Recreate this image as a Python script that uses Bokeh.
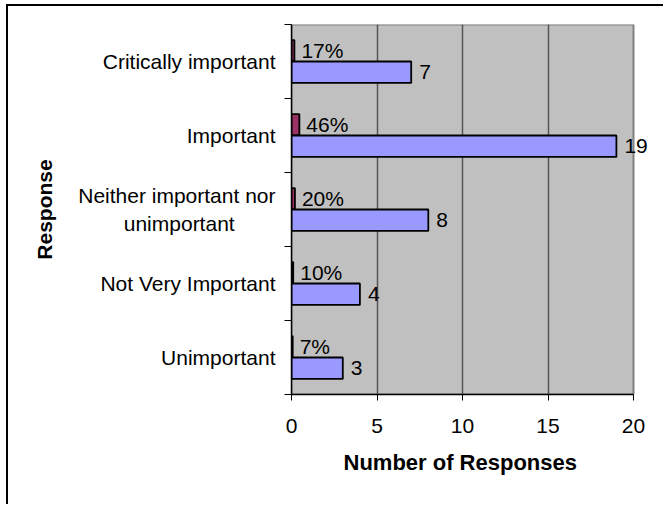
from bokeh.plotting import figure
from bokeh.models import Range1d, FixedTicker, ColumnDataSource, LabelSet, BoxAnnotation, Title
from bokeh.core.properties import value
from bokeh.embed import file_html
from bokeh.resources import INLINE

NBSP = "\u00a0"
categories = ["Critically important", "Important",
              "Neither important nor\nunimportant" + NBSP * 7,
              "Not Very Important", "Unimportant"]
counts = [7, 19, 8, 4, 3]
percents = [17, 46, 20, 10, 7]
x_ticks = [0, 5, 10, 15, 20]
x_max = 20

FONT = "Liberation Sans"
n = len(categories)
pos = [n - i - 0.5 for i in range(n)]
boundaries = [float(i) for i in range(n + 1)]
off = 0.145
bh = 0.29

FRAME_W_DATA = 342   # pixels spanned by 0..20
FRAME_W = 362        # extra room at right for the value labels
x_end = x_max * FRAME_W / FRAME_W_DATA

src = ColumnDataSource(dict(
    pos_pct=[p + off for p in pos],
    pos_cnt=[p - off for p in pos],
    counts=counts,
    frac=[v / 100 for v in percents],
    pct_txt=[f"{v}%" for v in percents],
    cnt_txt=[str(v) for v in counts],
))

p = figure(width=657, height=500, output_backend="svg", toolbar_location=None,
           x_range=Range1d(0, x_end), y_range=Range1d(0, n),
           min_border_left=283, min_border_top=18, min_border_right=12, min_border_bottom=112)
p.styles = {"border-top": "2px solid black", "border-left": "2px solid black",
            "margin-left": "6px", "margin-top": "4px"}
p.background_fill_color = "white"
p.border_fill_color = "white"
p.outline_line_color = None

# gray plot area (0..20)
p.add_layout(BoxAnnotation(left=0, right=x_max, bottom=0, top=n, level="image",
                           fill_color="#C0C0C0", fill_alpha=1.0,
                           line_color="#808080", line_width=2, line_alpha=1.0))

p.ygrid.visible = False
p.xgrid.ticker = FixedTicker(ticks=x_ticks[1:-1])
p.xgrid.grid_line_color = "#555555"
p.xgrid.grid_line_width = 1.5

p.hbar(y="pos_pct", right="frac", left=0, height=bh, source=src,
       fill_color="#993366", line_color="black", line_width=1.8)
p.hbar(y="pos_cnt", right="counts", left=0, height=bh, source=src,
       fill_color="#9999FF", line_color="black", line_width=1.8)

p.add_layout(LabelSet(x="frac", y="pos_pct", text="pct_txt", source=src, x_offset=7,
                      text_baseline="middle", text_align="left",
                      text_font=value(FONT), text_font_size="21px", text_color="black"))
p.add_layout(LabelSet(x="counts", y="pos_cnt", text="cnt_txt", source=src, x_offset=8,
                      text_baseline="middle", text_align="left",
                      text_font=value(FONT), text_font_size="21px", text_color="black"))

xa = p.xaxis[0]
xa.ticker = FixedTicker(ticks=x_ticks)
xa.bounds = (0, x_max)
xa.major_tick_out = 6
xa.major_tick_in = 0
xa.minor_tick_out = 0
xa.axis_line_color = "black"
xa.axis_line_width = 1.5
xa.major_tick_line_color = "black"
xa.major_label_text_font = FONT
xa.major_label_text_font_size = "21px"
xa.major_label_text_color = "black"
xa.major_label_standoff = 18

p.add_layout(Title(text="Number of Responses", align="left", offset=52, standoff=24,
                   text_font=FONT, text_font_size="22px", text_font_style="bold",
                   text_color="black"), "below")

ya = p.yaxis[0]
ya.ticker = FixedTicker(ticks=pos, minor_ticks=boundaries)
ya.major_label_overrides = {pv: c for pv, c in zip(pos, categories)}
ya.major_tick_out = 0
ya.major_tick_in = 0
ya.minor_tick_out = 7
ya.minor_tick_in = 0
ya.minor_tick_line_color = "black"
ya.axis_line_color = "black"
ya.axis_line_width = 1.5
ya.major_label_text_font = FONT
ya.major_label_text_font_size = "21px"
ya.major_label_text_color = "black"
ya.major_label_standoff = 9
ya.axis_label = "Response"
ya.axis_label_text_font = FONT
ya.axis_label_text_font_style = "bold"
ya.axis_label_text_font_size = "21px"
ya.axis_label_text_color = "black"
ya.axis_label_standoff = 19

open("out.html", "w").write(file_html(p, INLINE))
